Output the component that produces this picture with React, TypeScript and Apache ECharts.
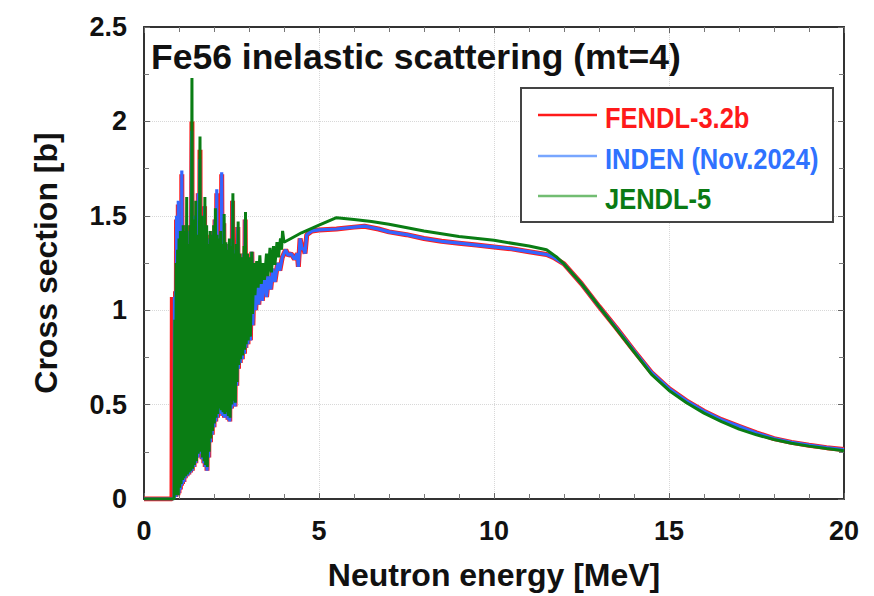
import React, { useEffect, useRef } from "react";
import * as echarts from "echarts";

const TITLE = "Fe56 inelastic scattering (mt=4)";
const X_NAME = "Neutron energy [MeV]";
const Y_NAME = "Cross section [b]";
const SERIES_NAMES = ["FENDL-3.2b", "INDEN (Nov.2024)", "JENDL-5"];
const SERIES_COLORS = ["#ff1a1a", "#3366ff", "#0a7d14"];
const LEGEND_TEXT_COLORS = ["#ff1a1a", "#2f72ff", "#0a7a14"];
const LEGEND_LINE_COLORS = ["#ff1a1a", "#78a6ff", "#72bd72"];

// [energy MeV, cross section b]
const fendl: [number, number][] = [
  [0, 0], [0.8, 0], [0.81, 1.07], [0.83, 0.01], [0.86, 1.07], [0.88, 0.02], [0.9, 1.1], [0.91, 0.01],
  [0.93, 1.48], [0.94, 0.02], [0.96, 1.36], [0.97, 0.02], [0.98, 1.56], [1.0, 0.03], [1.02, 1.3], [1.04, 0.05],
  [1.06, 1.4], [1.07, 0.07], [1.08, 1.72], [1.1, 0.08], [1.12, 1.3], [1.14, 0.09], [1.16, 1.4], [1.18, 0.11],
  [1.21, 1.45], [1.23, 0.12], [1.26, 1.32], [1.28, 0.13], [1.31, 1.42], [1.33, 0.14], [1.37, 2.0], [1.38, 0.15],
  [1.41, 1.4], [1.43, 0.17], [1.46, 1.5], [1.48, 0.19], [1.52, 1.35], [1.54, 0.22], [1.55, 1.62], [1.57, 0.24],
  [1.6, 1.85], [1.61, 0.24], [1.64, 1.45], [1.66, 0.21], [1.69, 1.35], [1.71, 0.19], [1.73, 1.55], [1.75, 0.17],
  [1.78, 1.4], [1.8, 0.15], [1.83, 1.32], [1.85, 0.22], [1.88, 1.38], [1.9, 0.3], [1.93, 1.36], [1.95, 0.34],
  [1.98, 1.42], [2.0, 0.38], [2.03, 1.48], [2.05, 0.41], [2.08, 1.62], [2.1, 0.43], [2.13, 1.35], [2.15, 0.46],
  [2.18, 1.4], [2.2, 0.45], [2.22, 1.72], [2.25, 0.44], [2.28, 1.46], [2.3, 0.43], [2.33, 1.33], [2.35, 0.44],
  [2.38, 1.3], [2.4, 0.42], [2.43, 1.35], [2.45, 0.41], [2.48, 1.32], [2.5, 0.48], [2.53, 1.58], [2.55, 0.5],
  [2.58, 1.28], [2.6, 0.49], [2.63, 1.32], [2.65, 0.6], [2.68, 1.44], [2.7, 0.69], [2.73, 1.28], [2.75, 0.72],
  [2.79, 1.25], [2.81, 0.74], [2.85, 1.3], [2.87, 0.77], [2.89, 1.48], [2.91, 0.8], [2.95, 1.27], [2.97, 0.82],
  [3.01, 1.22], [3.04, 0.84], [3.08, 1.31], [3.11, 0.92], [3.15, 1.18], [3.19, 1.0], [3.24, 1.16], [3.28, 1.03],
  [3.33, 1.18], [3.38, 1.05], [3.45, 1.2], [3.5, 1.07], [3.56, 1.18], [3.62, 1.11], [3.68, 1.22], [3.74, 1.15],
  [3.82, 1.25], [3.88, 1.21], [3.95, 1.28], [4.05, 1.32], [4.12, 1.29], [4.2, 1.3], [4.3, 1.27], [4.38, 1.3],
  [4.41, 1.23], [4.46, 1.38], [4.52, 1.32], [4.56, 1.33], [4.6, 1.3], [4.65, 1.4], [4.8, 1.42], [5.0, 1.425],
  [5.5, 1.43], [6.0, 1.44], [6.3, 1.445], [6.7, 1.43], [7.0, 1.415], [7.5, 1.4], [8.0, 1.38], [8.5, 1.365],
  [9.0, 1.355], [9.5, 1.345], [10.0, 1.335], [10.5, 1.325], [11.0, 1.31], [11.5, 1.295], [11.7, 1.28],
  [12.0, 1.245], [12.5, 1.14], [13.0, 1.02], [13.5, 0.905], [14.0, 0.785], [14.5, 0.67], [15.0, 0.585],
  [15.5, 0.52], [16.0, 0.465], [16.5, 0.42], [17.0, 0.385], [17.5, 0.35], [18.0, 0.32], [18.5, 0.3],
  [19.0, 0.285], [19.5, 0.272], [20.0, 0.262],
];

const inden: [number, number][] = [
  [0, 0], [0.84, 0], [0.86, 0.01], [0.87, 1.07], [0.88, 0.02], [0.9, 1.1], [0.91, 0.01], [0.93, 1.5],
  [0.94, 0.02], [0.96, 1.36], [0.97, 0.02], [0.98, 1.58], [1.0, 0.03], [1.02, 1.3], [1.04, 0.05], [1.06, 1.4],
  [1.07, 0.07], [1.08, 1.74], [1.1, 0.08], [1.12, 1.3], [1.14, 0.09], [1.16, 1.4], [1.18, 0.11], [1.21, 1.45],
  [1.23, 0.12], [1.26, 1.32], [1.28, 0.13], [1.31, 1.42], [1.33, 0.14], [1.36, 1.95], [1.38, 0.15], [1.41, 1.4],
  [1.43, 0.17], [1.46, 1.5], [1.48, 0.19], [1.52, 1.35], [1.54, 0.22], [1.55, 1.62], [1.57, 0.24], [1.59, 1.8],
  [1.61, 0.24], [1.64, 1.45], [1.66, 0.21], [1.69, 1.35], [1.71, 0.19], [1.73, 1.55], [1.75, 0.17], [1.78, 1.4],
  [1.8, 0.15], [1.83, 1.32], [1.85, 0.22], [1.88, 1.38], [1.9, 0.3], [1.93, 1.36], [1.95, 0.34], [1.98, 1.42],
  [2.0, 0.38], [2.03, 1.48], [2.05, 0.41], [2.08, 1.64], [2.1, 0.43], [2.13, 1.35], [2.15, 0.46], [2.18, 1.4],
  [2.2, 0.45], [2.22, 1.73], [2.25, 0.44], [2.28, 1.46], [2.3, 0.43], [2.33, 1.33], [2.35, 0.44], [2.38, 1.3],
  [2.4, 0.42], [2.43, 1.35], [2.45, 0.41], [2.48, 1.32], [2.5, 0.48], [2.53, 1.58], [2.55, 0.5], [2.58, 1.28],
  [2.6, 0.49], [2.63, 1.32], [2.65, 0.6], [2.68, 1.44], [2.7, 0.69], [2.73, 1.28], [2.75, 0.72], [2.79, 1.25],
  [2.81, 0.74], [2.85, 1.3], [2.87, 0.77], [2.89, 1.48], [2.91, 0.8], [2.95, 1.27], [2.97, 0.82], [3.01, 1.22],
  [3.04, 0.84], [3.08, 1.31], [3.11, 0.92], [3.15, 1.18], [3.19, 1.0], [3.24, 1.16], [3.28, 1.03], [3.33, 1.18],
  [3.38, 1.05], [3.45, 1.2], [3.5, 1.07], [3.56, 1.18], [3.62, 1.11], [3.68, 1.22], [3.74, 1.15], [3.82, 1.25],
  [3.88, 1.21], [3.95, 1.28], [4.05, 1.32], [4.12, 1.29], [4.2, 1.3], [4.3, 1.27], [4.38, 1.3], [4.41, 1.23],
  [4.46, 1.38], [4.52, 1.32], [4.56, 1.33], [4.6, 1.3], [4.65, 1.4], [4.8, 1.42], [5.0, 1.425], [5.5, 1.43],
  [6.0, 1.44], [6.3, 1.445], [6.7, 1.43], [7.0, 1.415], [7.5, 1.4], [8.0, 1.38], [8.5, 1.365], [9.0, 1.355],
  [9.5, 1.345], [10.0, 1.335], [10.5, 1.325], [11.0, 1.31], [11.5, 1.295], [11.7, 1.28], [12.0, 1.245],
  [12.5, 1.14], [13.0, 1.02], [13.5, 0.905], [14.0, 0.785], [14.5, 0.67], [15.0, 0.585], [15.5, 0.52],
  [16.0, 0.465], [16.5, 0.42], [17.0, 0.385], [17.5, 0.35], [18.0, 0.32], [18.5, 0.3], [19.0, 0.285],
  [19.5, 0.272], [20.0, 0.262],
];

const jendl: [number, number][] = [
  [0, 0], [0.86, 0], [0.88, 0.95], [0.9, 0.02], [0.92, 1.25], [0.94, 0.03], [0.96, 1.32], [0.98, 0.02],
  [1.0, 1.38], [1.02, 0.06], [1.04, 1.42], [1.06, 0.08], [1.08, 1.28], [1.1, 0.1], [1.12, 1.45], [1.14, 0.11],
  [1.17, 1.42], [1.19, 0.12], [1.22, 1.6], [1.24, 0.13], [1.27, 1.35], [1.29, 0.14], [1.32, 1.45], [1.34, 0.15],
  [1.37, 2.23], [1.39, 0.16], [1.42, 1.48], [1.44, 0.18], [1.48, 1.58], [1.5, 0.2], [1.53, 1.4], [1.55, 0.24],
  [1.6, 1.92], [1.62, 0.25], [1.65, 1.5], [1.67, 0.22], [1.7, 1.38], [1.72, 0.2], [1.74, 1.6], [1.76, 0.18],
  [1.79, 1.45], [1.81, 0.17], [1.84, 1.35], [1.86, 0.25], [1.89, 1.42], [1.91, 0.32], [1.94, 1.4], [1.96, 0.36],
  [1.99, 1.45], [2.01, 0.4], [2.04, 1.54], [2.06, 0.43], [2.09, 1.4], [2.11, 0.45], [2.14, 1.38], [2.16, 0.48],
  [2.19, 1.42], [2.21, 0.47], [2.24, 1.35], [2.26, 0.46], [2.29, 1.51], [2.31, 0.45], [2.34, 1.36], [2.36, 0.46],
  [2.39, 1.32], [2.41, 0.44], [2.44, 1.38], [2.46, 0.43], [2.49, 1.34], [2.51, 0.5], [2.54, 1.62], [2.56, 0.52],
  [2.59, 1.3], [2.61, 0.51], [2.64, 1.35], [2.66, 0.62], [2.69, 1.47], [2.71, 0.71], [2.74, 1.3], [2.76, 0.74],
  [2.8, 1.28], [2.82, 0.76], [2.86, 1.34], [2.88, 0.79], [2.9, 1.52], [2.92, 0.82], [2.96, 1.3], [2.98, 0.84],
  [3.02, 1.28], [3.04, 0.86], [3.08, 1.31], [3.1, 0.98], [3.14, 1.25], [3.17, 1.08], [3.22, 1.26], [3.26, 1.12],
  [3.31, 1.29], [3.35, 1.14], [3.4, 1.25], [3.44, 1.16], [3.5, 1.3], [3.54, 1.18], [3.6, 1.33], [3.64, 1.2],
  [3.7, 1.34], [3.74, 1.24], [3.8, 1.36], [3.84, 1.28], [3.9, 1.38], [3.93, 1.32], [3.96, 1.42], [4.0, 1.36],
  [4.2, 1.38], [4.5, 1.41], [5.0, 1.45], [5.5, 1.49], [6.0, 1.48], [6.5, 1.47], [7.0, 1.455], [8.0, 1.42],
  [9.0, 1.39], [10.0, 1.37], [11.0, 1.34], [11.5, 1.32], [11.8, 1.28], [12.0, 1.245], [12.5, 1.14], [13.0, 1.02],
  [13.5, 0.9], [14.0, 0.78], [14.5, 0.66], [15.0, 0.575], [15.5, 0.51], [16.0, 0.455], [16.5, 0.41],
  [17.0, 0.37], [17.5, 0.34], [18.0, 0.315], [18.5, 0.295], [19.0, 0.28], [19.5, 0.267], [20.0, 0.255],
];

const SERIES_DATA = [fendl, inden, jendl];
const SERIES_WIDTHS = [5, 3.2, 3];

export default function App() {
  const ref = useRef<HTMLDivElement>(null);
  useEffect(() => {
    const chart = echarts.init(ref.current!, null, { renderer: "svg" });
    const sans = "'Liberation Sans', Arial, sans-serif";
    const frame = { show: true, onZero: false, lineStyle: { color: "#333", width: 2 } };
    const tick = { show: true, inside: true, length: 6, lineStyle: { color: "#666", width: 1 } };
    const minor = { show: true, length: 5, lineStyle: { color: "#777", width: 1 } };
    const grid = { show: true, lineStyle: { color: "#d8d8d8", type: "dotted", width: 1 } };
    const tickLabel = { fontFamily: sans, fontWeight: "bold", fontSize: 27, color: "#111" };
    const nameStyle = { fontFamily: sans, fontWeight: "bold", fontSize: 32, color: "#111" };

    const legendRows = [115, 156, 196];
    const legendGraphics: any[] = [
      {
        type: "rect",
        shape: { x: 521, y: 88, width: 312, height: 134 },
        style: { fill: "#fff", stroke: "#444", lineWidth: 2 },
        z: 100,
      },
    ];
    SERIES_NAMES.forEach((name, i) => {
      legendGraphics.push({
        type: "line",
        shape: { x1: 538, y1: legendRows[i], x2: 597, y2: legendRows[i] },
        style: { stroke: LEGEND_LINE_COLORS[i], lineWidth: 2.5 },
        z: 101,
      });
      legendGraphics.push({
        type: "text",
        x: 605,
        y: legendRows[i] + 3,
        scaleX: 0.85,
        style: {
          text: name,
          fill: LEGEND_TEXT_COLORS[i],
          fontFamily: sans,
          fontWeight: "bold",
          fontSize: 30,
          verticalAlign: "middle",
          align: "left",
        },
        z: 101,
      });
    });

    chart.setOption({
      animation: false,
      backgroundColor: "#fff",
      grid: { left: 144, right: 30, top: 27, bottom: 96 },
      xAxis: [
        {
          type: "value", min: 0, max: 20, interval: 5, position: "bottom",
          axisLine: frame, axisTick: tick, minorTick: { ...minor, splitNumber: 5 },
          splitLine: grid, axisLabel: { ...tickLabel, margin: 18 },
          name: X_NAME, nameLocation: "middle", nameGap: 60, nameTextStyle: nameStyle,
        },
        {
          type: "value", min: 0, max: 20, interval: 5, position: "top",
          axisLine: frame, axisTick: tick, minorTick: { ...minor, splitNumber: 5 },
          splitLine: { show: false }, axisLabel: { show: false },
        },
      ],
      yAxis: [
        {
          type: "value", min: 0, max: 2.5, interval: 0.5, position: "left",
          axisLine: frame, axisTick: tick, minorTick: { ...minor, splitNumber: 2 },
          splitLine: grid, axisLabel: { ...tickLabel, margin: 17 },
          name: Y_NAME, nameLocation: "middle", nameGap: 82, nameTextStyle: nameStyle,
        },
        {
          type: "value", min: 0, max: 2.5, interval: 0.5, position: "right",
          axisLine: frame, axisTick: tick, minorTick: { ...minor, splitNumber: 2 },
          splitLine: { show: false }, axisLabel: { show: false },
        },
      ],
      series: SERIES_NAMES.map((name, i) => ({
        name,
        type: "line",
        data: SERIES_DATA[i],
        showSymbol: false,
        symbol: "none",
        lineStyle: { color: SERIES_COLORS[i], width: SERIES_WIDTHS[i] },
        itemStyle: { color: SERIES_COLORS[i] },
        z: 2 + i,
      })),
      graphic: [
        {
          type: "text",
          x: 151,
          y: 57,
          style: {
            text: TITLE,
            fill: "#111",
            fontFamily: sans,
            fontWeight: "bold",
            fontSize: 35.5,
            verticalAlign: "middle",
            align: "left",
          },
          z: 100,
        },
        ...legendGraphics,
      ],
    });
    return () => chart.dispose();
  }, []);
  return (
    <div
      ref={ref}
      style={{ position: "fixed", left: 0, top: 0, width: 874, height: 596, background: "#fff" }}
    />
  );
}
